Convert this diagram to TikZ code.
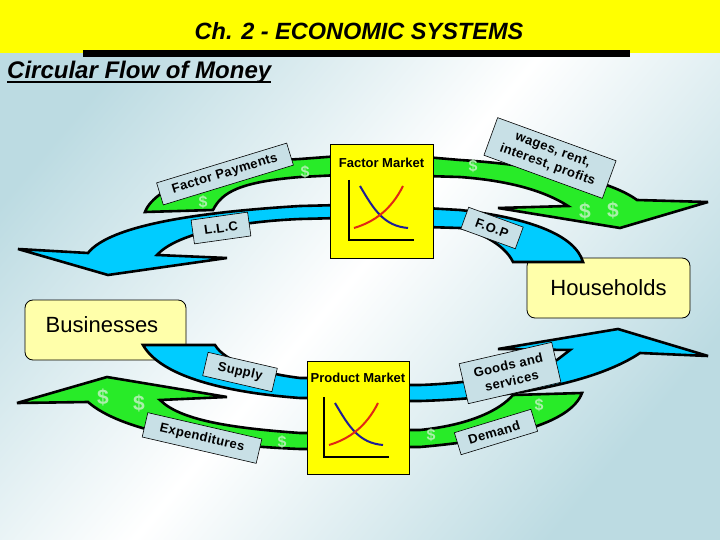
\documentclass[tikz,border=0pt]{standalone}
\usepackage{fontspec}
\setmainfont{Liberation Sans}
\newfontfamily\tagfont{Liberation Sans}[LetterSpace=3]
\usepackage{tikz}
\usetikzlibrary{positioning}
\definecolor{HeadYellow}{HTML}{FFFF00}
\definecolor{BgBlue}{RGB}{188,219,226}
\definecolor{FlowGreen}{RGB}{40,235,40}
\definecolor{FlowBlue}{RGB}{0,204,255}
\definecolor{TagGray}{RGB}{200,224,230}
\definecolor{PaleYellow}{RGB}{255,255,170}
\definecolor{DollarGreen}{RGB}{170,240,170}
\definecolor{CurveBlue}{RGB}{30,30,150}
\definecolor{CurveRed}{RGB}{225,40,20}

\tikzset{
  band/.style={draw=black, line width=2.6pt, miter limit=6},
  market/.style={draw=black, line width=0.6pt, fill=HeadYellow},
  sector/.style={draw=black, line width=0.8pt, fill=PaleYellow, rounded corners=8pt,
                 font=\fontsize{22}{24}\selectfont},
  tagbox/.style={draw=black, line width=0.6pt, fill=TagGray, align=center,
                 inner sep=0pt, font=\tagfont\bfseries\fontsize{13}{16}\selectfont},
  dollar/.style={text=DollarGreen, font=\bfseries\fontsize{#1}{#1}\selectfont, inner sep=0pt}
}

\begin{document}
\begin{tikzpicture}[x=1pt, y=-1pt]
  \useasboundingbox (0,0) rectangle (720,540);
  \shade[top color=BgBlue, bottom color=BgBlue, middle color=white, shading angle=50]
    (0,0) rectangle (720,540);
  \fill[HeadYellow] (0,0) rectangle (720,53);
  \fill[black] (83,50) rectangle (630,57);

  \node[font=\bfseries\itshape\fontsize{23.5}{26}\selectfont] (title) at (359,31)
    {Ch. 2 - ECONOMIC SYSTEMS};
  \node[anchor=base west, inner sep=0pt, font=\bfseries\itshape\fontsize{24}{26}\selectfont]
    (subtitle) at (7,79) {Circular Flow of Money};
  \draw[line width=1.6pt] ([yshift=-3pt]subtitle.base west) -- ([yshift=-3pt]subtitle.base east);

  % sectors
  \node[sector, minimum width=163pt, minimum height=60pt] (house) at (608.5,288) {Households};
  \node[sector, minimum width=161pt, minimum height=60pt] (biz) at (105.5,330) {};
  \node[font=\fontsize{22}{24}\selectfont] (biztext) at (102,325) {Businesses};

  % upper flows (factor market)
  \draw[band, fill=FlowGreen] (340,156) -- (300,159) .. controls (220,163) and (155,185) .. (145,212)
    -- (213,210) .. controls (222,192) and (240,182) .. (300,177) -- (340,175) -- cycle;
  \draw[band, fill=FlowBlue] (340,205) -- (300,206) .. controls (200,212) and (110,225) .. (88,253)
    -- (18,249) -- (108,275) -- (227,258) -- (157,255)
    .. controls (175,235) and (230,222) .. (300,219) -- (340,218) -- cycle;
  \draw[band, fill=FlowGreen] (425,157) -- (460,160) .. controls (540,165) and (610,180) .. (637,200)
    -- (708,202) -- (620,228) -- (498,208) -- (568,206)
    .. controls (540,188) and (500,180) .. (460,177) -- (425,176) -- cycle;
  \draw[band, fill=FlowBlue] (425,208) -- (460,210) .. controls (530,218) and (575,235) .. (583,262)
    -- (513,262) .. controls (505,245) and (480,232) .. (460,228) -- (425,227) -- cycle;

  % lower flows (product market)
  \draw[band, fill=FlowBlue] (143,345) -- (215,345) .. controls (225,362) and (260,373) .. (300,378)
    -- (315,378) -- (315,398) -- (300,398) .. controls (220,392) and (160,375) .. (143,345) -- cycle;
  \draw[band, fill=FlowGreen] (315,433) -- (300,433) .. controls (230,428) and (180,420) .. (160,400)
    -- (227,397) -- (107,377) -- (17,403) -- (88,402)
    .. controls (120,430) and (200,445) .. (300,449) -- (315,449) -- cycle;
  \draw[band, fill=FlowBlue] (400,385) -- (420,385) .. controls (480,383) and (530,372) .. (557,360)
    -- (570,350) -- (498,349) -- (618,329) -- (708,356) -- (640,353)
    .. controls (600,380) and (520,398) .. (420,401) -- (400,401) -- cycle;
  \draw[band, fill=FlowGreen] (400,430) -- (420,430) .. controls (470,425) and (500,410) .. (513,395)
    -- (582,393) .. controls (570,425) and (500,440) .. (420,447) -- (400,447) -- cycle;

  % markets
  \node[market, minimum width=103pt, minimum height=114pt] (factor) at (381.5,201) {};
  \node[market, minimum width=102pt, minimum height=113pt] (product) at (358,417.5) {};
  \node[inner sep=0pt, font=\bfseries\fontsize{13}{15}\selectfont, below=14pt of factor.north]
    (factortitle) {Factor Market};
  \node[inner sep=0pt, font=\bfseries\fontsize{13}{15}\selectfont, below=12pt of product.north]
    (producttitle) {Product Market};
  \foreach \ox/\oy in {349/240, 324/457}{
    \draw[line width=2.4pt] (\ox,\oy-60) -- (\ox,\oy) -- (\ox+65,\oy);
    \draw[CurveBlue, line width=2pt] (\ox+11,\oy-54) .. controls (\ox+25,\oy-30) and (\ox+35,\oy-14) .. (\ox+59,\oy-12);
    \draw[CurveRed, line width=2pt] (\ox+5,\oy-12) .. controls (\ox+25,\oy-18) and (\ox+42,\oy-30) .. (\ox+54,\oy-54);
  }

  % flow labels
  \foreach \name/\x/\y/\ang/\w/\h/\txt in {
    fp/225/174/17/136/23/{Factor Payments},
    llc/221/228/8/57/24/{L.L.C},
    wages/550/158/-20/126/40/{wages, rent,\\interest, profits},
    fop/492/228/-20/58/23/{F.O.P},
    supply/240/372/-13/71/24/{Supply},
    exp/202/438/-13/117/25/{Expenditures},
    goods/510/373/13/95/41/{Goods and\\services},
    demand/496/432/17/80/23/{Demand}
  }{
    \node[tagbox, rotate=\ang, minimum width=\w pt, minimum height=\h pt] (tag\name) at (\x,\y) {\txt};
  }

  \foreach \x/\y/\s [count=\k] in {203/202/16, 305/172/16, 473/166/16, 585/211/21, 613/210/21,
                                   103/397/21, 139/403/21, 282/442/16, 431/435/16, 539/405/16}{
    \node[dollar=\s] (dollar\k) at (\x,\y) {\$};
  }
\end{tikzpicture}
\end{document}
